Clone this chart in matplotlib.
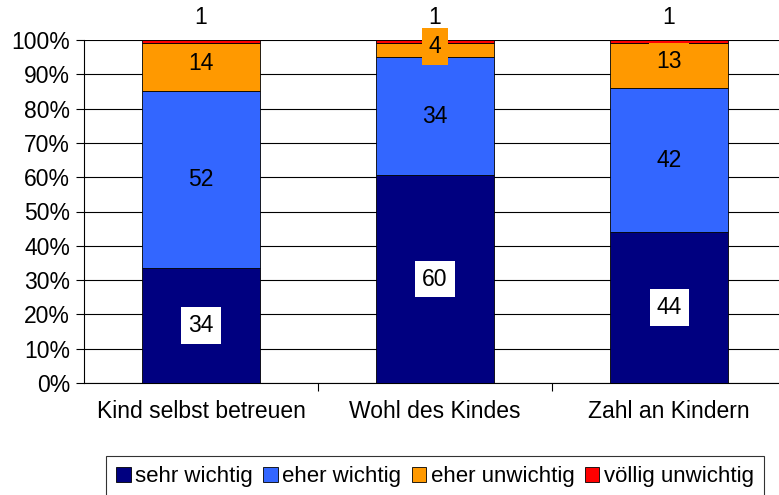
import matplotlib
matplotlib.use("Agg")
import matplotlib.pyplot as plt
import numpy as np

categories = ["Kind selbst betreuen", "Wohl des Kindes", "Zahl an Kindern"]
series_names = ["sehr wichtig", "eher wichtig", "eher unwichtig", "völlig unwichtig"]
sehr_wichtig = [34, 60, 44]
eher_wichtig = [52, 34, 42]
eher_unwichtig = [14, 4, 13]
voellig_unwichtig = [1, 1, 1]
colors = ["#000080", "#3366FF", "#FF9900", "#FF0000"]
yticks = [0, 10, 20, 30, 40, 50, 60, 70, 80, 90, 100]

plt.rcParams['font.family'] = ['Liberation Sans', 'DejaVu Sans']

series = [sehr_wichtig, eher_wichtig, eher_unwichtig, voellig_unwichtig]
data = np.array(series, dtype=float)
totals = data.sum(axis=0)
pct = data / totals * 100

fs = 16.5
fig = plt.figure(figsize=(7.79, 4.95), dpi=100)
ax = fig.add_axes([84/779, 1-383/495, 702/779, 343/495])

x = np.arange(len(categories))
bottom = np.zeros(len(categories))
for i, (name, col) in enumerate(zip(series_names, colors)):
    ax.bar(x, pct[i], bottom=bottom, width=0.505, color=col, edgecolor="black",
           linewidth=0.6, label=name, zorder=3)
    for j in range(len(categories)):
        cy = bottom[j] + pct[i][j] / 2
        val = int(data[i][j])
        if i == 0:
            ax.text(x[j], cy, str(val), ha="center", va="center", fontsize=fs, zorder=5,
                    bbox=dict(boxstyle="square,pad=0.3", fc="white", ec="none"))
        elif i == 1:
            ax.text(x[j], cy, str(val), ha="center", va="center", fontsize=fs, zorder=5)
        elif i == 2:
            ax.text(x[j], cy + 1.2, str(val), ha="center", va="center", fontsize=fs, zorder=5,
                    bbox=dict(boxstyle="square,pad=0.3", fc=col, ec="none"))
        else:
            ax.text(x[j], 106.5, str(val), ha="center", va="center", fontsize=fs,
                    zorder=5, clip_on=False)
    bottom += pct[i]

ax.set_xlim(-0.5, 2.5)
ax.set_ylim(0, 100)
ax.set_yticks(yticks)
ax.set_yticklabels([f"{t}%" for t in yticks], fontsize=fs)
ax.yaxis.grid(True, color="black", linewidth=0.8, zorder=0)
ax.set_axisbelow(True)
ax.set_xticks([0.5, 1.5])
ax.set_xticklabels([])
ax.set_xticks(x, minor=True)
ax.set_xticklabels(categories, minor=True, fontsize=fs)
ax.tick_params(axis="x", which="minor", length=0, pad=12)
ax.tick_params(axis="x", which="major", length=6, direction="out", width=0.8)
ax.tick_params(axis="y", length=6, direction="out", width=0.8, pad=4)
for s in ["top", "right"]:
    ax.spines[s].set_visible(False)
for s in ["left", "bottom"]:
    ax.spines[s].set_color("black")
    ax.spines[s].set_linewidth(0.8)

handles, labels = ax.get_legend_handles_labels()
leg = fig.legend(handles, labels, loc="upper center", bbox_to_anchor=(435/779, 1-456/495),
                 ncol=4, fontsize=16, frameon=True, fancybox=False, edgecolor="black",
                 handlelength=0.65, handleheight=0.65, handletextpad=0.22, columnspacing=0.45,
                 borderpad=0.45, borderaxespad=0)
leg.get_frame().set_linewidth(0.8)

fig.savefig("out.png", dpi=100)
